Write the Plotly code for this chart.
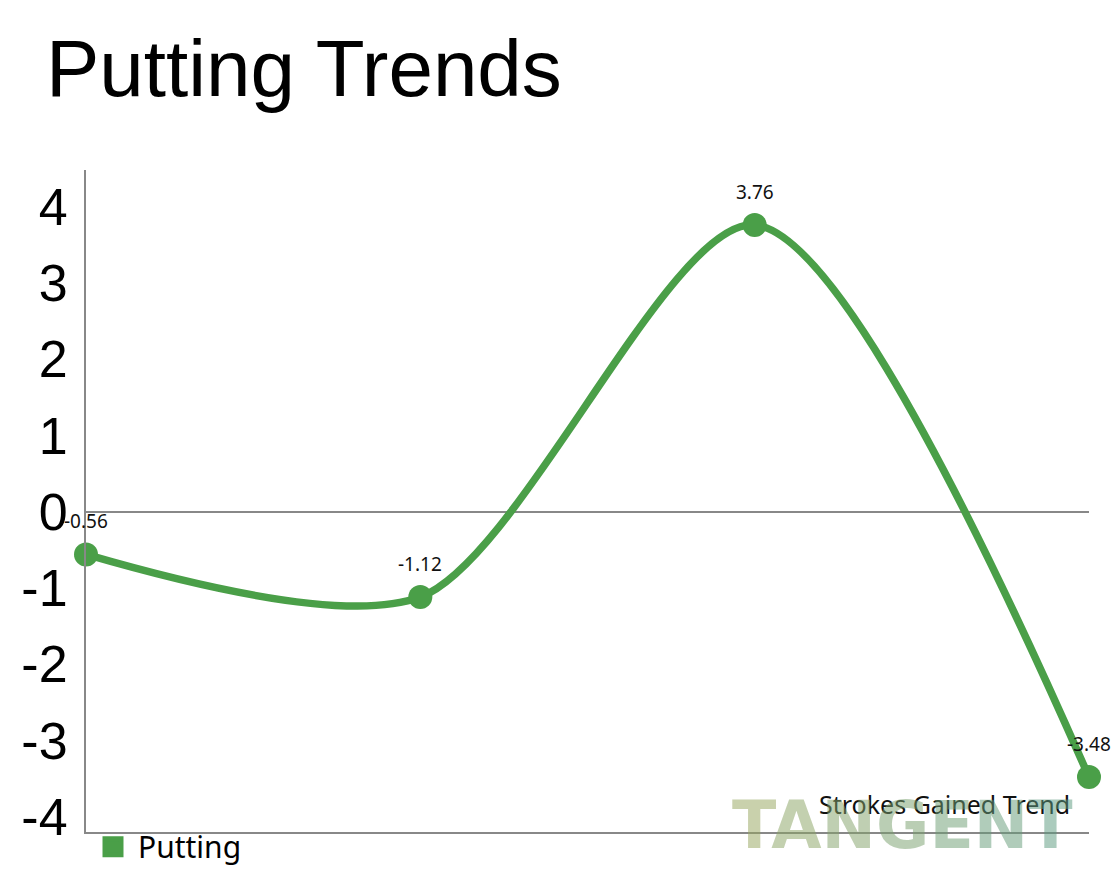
import plotly.graph_objects as go

# ---- data ----
rounds = [0, 1, 2, 3]
putting = [-0.56, -1.12, 3.76, -3.48]
y_ticks = [-4, -3, -2, -1, 0, 1, 2, 3, 4]
series_name = "Putting"
title_text = "Putting Trends"
subtitle_text = "Strokes Gained Trend"
watermark = "TANGENT"

GREEN = "#4a9f48"
# page body has an 8px margin, so the figure is sized/offset for it
W, H = 1111, 878
L, R, T, B = 78, 30, 162, 54
PW, PH = W - L - R, H - T - B

fig = go.Figure()
fig.add_trace(go.Scatter(
    x=rounds, y=putting, mode="lines+markers",
    line=dict(color=GREEN, width=7.5, shape="spline", smoothing=0.8),
    marker=dict(color=GREEN, size=24),
    cliponaxis=False, showlegend=False, hoverinfo="skip",
))
# legend entry (square swatch)
fig.add_trace(go.Scatter(
    x=[None], y=[None], mode="markers", name=series_name,
    marker=dict(color=GREEN, size=16, symbol="square",
                line=dict(color=GREEN, width=5)),
))

annotations = []
for xv, yv in zip(rounds, putting):
    annotations.append(dict(
        x=xv, y=yv, xref="x", yref="y", text=f"{yv:.2f}",
        showarrow=False, yshift=33,
        font=dict(family="Noto Sans", size=19, color="#111111"),
    ))

annotations.append(dict(
    x=(1064 - L) / PW, y=(824 - 796) / PH,
    xref="paper", yref="paper", xanchor="right", yanchor="middle",
    text=subtitle_text, showarrow=False,
    font=dict(family="Noto Sans", size=25, color="#111111"),
))

c0 = (150, 166, 95)
c1 = (92, 155, 127)
n = len(watermark)
parts = []
for i, ch in enumerate(watermark):
    t = i / (n - 1)
    c = tuple(int(round(c0[k] + (c1[k] - c0[k]) * t)) for k in range(3))
    parts.append(f"<span style='color:rgba({c[0]},{c[1]},{c[2]},0.72)'>{ch}</span>")
annotations.append(dict(
    x=(894 - L) / PW, y=(824 - 817) / PH,
    xref="paper", yref="paper", xanchor="center", yanchor="middle",
    text="<b>" + "".join(parts) + "</b>", showarrow=False,
    font=dict(family="DejaVu Sans", size=65, weight="bold",
              color="rgba(150,166,95,0.72)"),
))

fig.update_layout(
    width=W, height=H,
    margin=dict(l=L, r=R, t=T, b=B, pad=0, autoexpand=False),
    paper_bgcolor="white", plot_bgcolor="white",
    title=dict(text=title_text, x=38 / W, xref="container", xanchor="left",
               y=1 - 32 / H, yref="container", yanchor="top",
               automargin=False,
               font=dict(family="Liberation Sans", size=80, color="black")),
    xaxis=dict(range=[0, 3], showgrid=False, zeroline=False,
               showticklabels=False, ticks="", automargin=False,
               showline=True, linecolor="#888888", linewidth=2),
    yaxis=dict(range=[-4.2, 4.48], tickvals=y_ticks,
               ticktext=[str(v) for v in y_ticks], automargin=False,
               showgrid=False, zeroline=True, zerolinecolor="#888888",
               zerolinewidth=2, showline=True, linecolor="#888888",
               linewidth=2, ticks="", ticklabelstandoff=6,
               tickfont=dict(family="Liberation Sans", size=52, color="black")),
    showlegend=True,
    legend=dict(orientation="h", x=2 / PW, xanchor="left", y=0.017,
                yanchor="top", itemwidth=40,
                font=dict(family="Noto Sans", size=30, color="black"),
                bgcolor="rgba(0,0,0,0)"),
    annotations=annotations,
)

fig.write_html("out.html")
